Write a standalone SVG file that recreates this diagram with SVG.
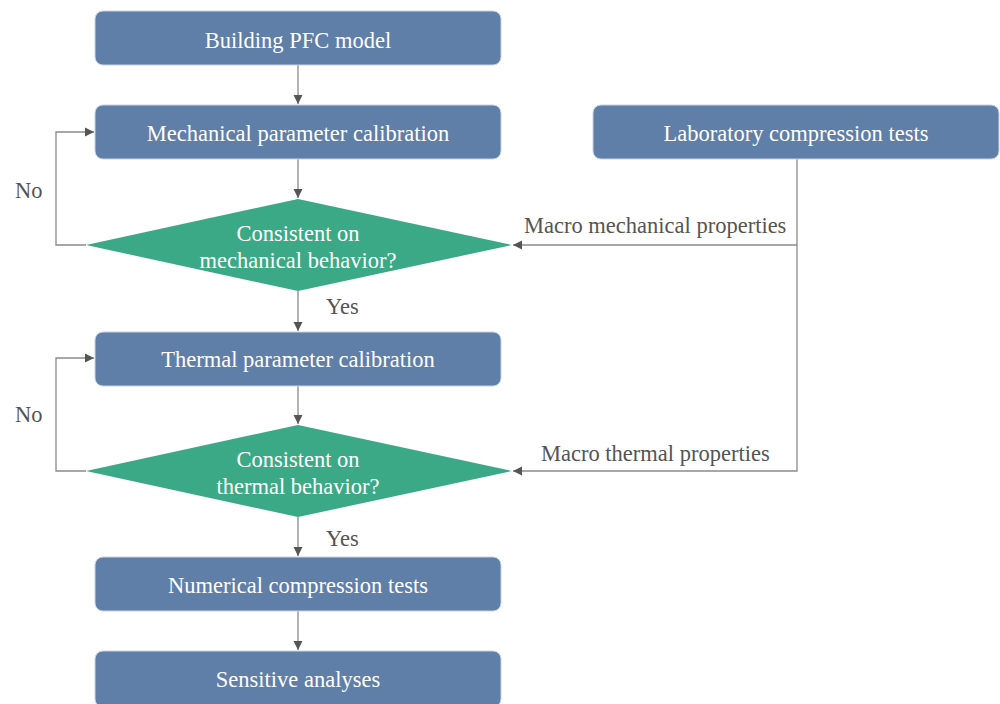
<svg xmlns="http://www.w3.org/2000/svg" width="1000" height="704" viewBox="0 0 1000 704">
<style>
.box{fill:#5f7ea8;stroke:#c9d3e2;stroke-width:1}
.dia{fill:#3ca986}
.t{font-family:"Liberation Serif","Times New Roman",serif;font-size:22.5px;fill:#ffffff;text-anchor:middle}
.lbl{font-family:"Liberation Serif","Times New Roman",serif;font-size:22.5px;fill:#555555}
.ln{fill:none;stroke:#8a8a8a;stroke-width:1.3}
</style>
<defs>
<marker id="ah" markerWidth="10" markerHeight="10" refX="9" refY="5" orient="auto" markerUnits="userSpaceOnUse">
<path d="M0,0.5 L9,5 L0,9.5 Z" fill="#555555"/>
</marker>
</defs>
<rect width="1000" height="704" fill="#ffffff"/>
<g id="connectors">
<line class="ln" x1="298" y1="65" x2="298" y2="104" marker-end="url(#ah)"/>
<line class="ln" x1="298" y1="159" x2="298" y2="198" marker-end="url(#ah)"/>
<line class="ln" x1="298" y1="291" x2="298" y2="331" marker-end="url(#ah)"/>
<line class="ln" x1="298" y1="386" x2="298" y2="424" marker-end="url(#ah)"/>
<line class="ln" x1="298" y1="517" x2="298" y2="556" marker-end="url(#ah)"/>
<line class="ln" x1="298" y1="611" x2="298" y2="650" marker-end="url(#ah)"/>
<polyline class="ln" points="86,245 56,245 56,132 94,132" marker-end="url(#ah)"/>
<polyline class="ln" points="86,471 56,471 56,358 94,358" marker-end="url(#ah)"/>
<polyline class="ln" points="797,159 797,471 513,471" marker-end="url(#ah)"/>
<line class="ln" x1="797" y1="245" x2="513" y2="245" marker-end="url(#ah)"/>
<text class="lbl" x="15" y="198">No</text>
<text class="lbl" x="15" y="422">No</text>
<text class="lbl" x="326" y="314">Yes</text>
<text class="lbl" x="326" y="546">Yes</text>
<text class="lbl" x="524" y="233">Macro mechanical properties</text>
<text class="lbl" x="541" y="461">Macro thermal properties</text>
</g>
<g id="n1"><rect class="box" x="95" y="11" width="406" height="54" rx="8"/><text class="t" x="298" y="48">Building PFC model</text></g>
<g id="n2"><rect class="box" x="95" y="105" width="406" height="54" rx="8"/><text class="t" x="298" y="141">Mechanical parameter calibration</text></g>
<g id="n3"><rect class="box" x="593" y="105" width="406" height="54" rx="8"/><text class="t" x="796" y="141">Laboratory compression tests</text></g>
<g id="d1"><polygon class="dia" points="298,199 512,245 298,291 86,245"/><text class="t" x="298" y="241">Consistent on</text><text class="t" x="298" y="268">mechanical behavior?</text></g>
<g id="n4"><rect class="box" x="95" y="332" width="406" height="54" rx="8"/><text class="t" x="298" y="367">Thermal parameter calibration</text></g>
<g id="d2"><polygon class="dia" points="298,425 512,471 298,517 86,471"/><text class="t" x="298" y="467">Consistent on</text><text class="t" x="298" y="494">thermal behavior?</text></g>
<g id="n5"><rect class="box" x="95" y="557" width="406" height="54" rx="8"/><text class="t" x="298" y="593">Numerical compression tests</text></g>
<g id="n6"><rect class="box" x="95" y="651" width="406" height="56" rx="8"/><text class="t" x="298" y="687">Sensitive analyses</text></g>
</svg>
